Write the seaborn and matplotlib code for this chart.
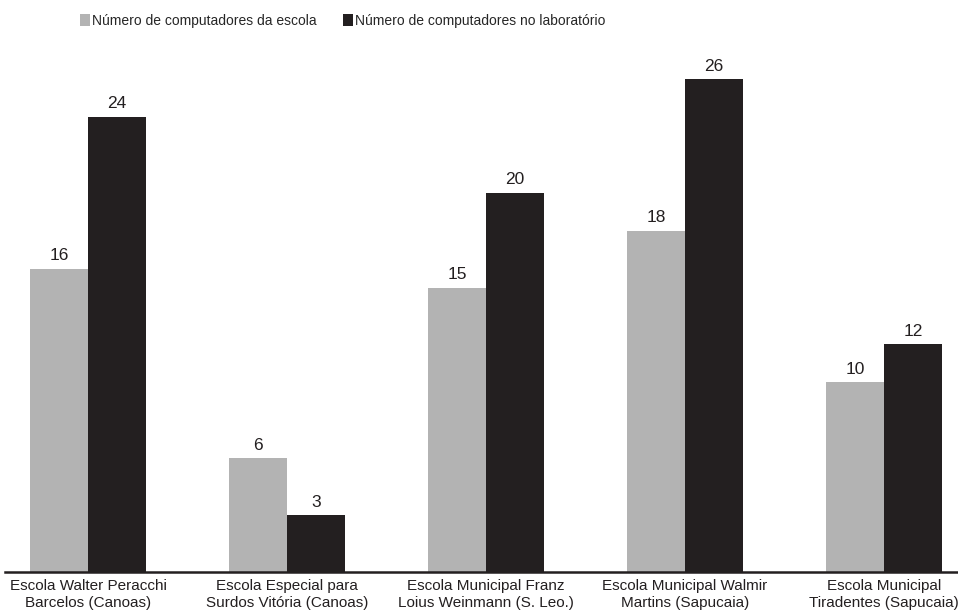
import matplotlib
matplotlib.use("Agg")
import matplotlib.pyplot as plt
import seaborn as sns
import pandas as pd

categories = [
    "Escola Walter Peracchi\nBarcelos (Canoas)",
    "Escola Especial para\nSurdos Vitória (Canoas)",
    "Escola Municipal Franz\nLoius Weinmann (S. Leo.)",
    "Escola Municipal Walmir\nMartins (Sapucaia)",
    "Escola Municipal\nTiradentes (Sapucaia)",
]
series_names = ["Número de computadores da escola", "Número de computadores no laboratório"]
escola = [16, 6, 15, 18, 10]
laboratorio = [24, 3, 20, 26, 12]
colors = ["#b3b3b3", "#231f20"]

df = pd.DataFrame({
    "categoria": categories * 2,
    "serie": [series_names[0]] * len(categories) + [series_names[1]] * len(categories),
    "valor": escola + laboratorio,
})

sns.set_theme(style="white")
plt.rcParams["font.family"] = ["Liberation Sans Narrow", "Liberation Sans", "DejaVu Sans"]

fig = plt.figure(figsize=(9.58, 6.15), dpi=100)
ax = fig.add_axes([5 / 958, 43 / 615, 953 / 958, 572 / 615])

sns.barplot(data=df, x="categoria", y="valor", hue="serie", palette=colors,
            width=0.58, gap=0, saturation=1, linewidth=0, edgecolor="none",
            ax=ax, legend=True)

for cont in ax.containers:
    ax.bar_label(cont, padding=4, fontsize=12.5, color="#231f20",
                 fontfamily=["Liberation Sans", "DejaVu Sans"])

ax.set_xlim(-0.417, 4.372)
ax.set_ylim(0, 30.17)
ax.set_xlabel("")
ax.set_ylabel("")
ax.set_yticks([])
ax.tick_params(axis="x", length=0, pad=5, labelsize=11, colors="#231f20")
for lbl in ax.get_xticklabels():
    lbl.set_linespacing(1.25)
for s in ["left", "right", "top"]:
    ax.spines[s].set_visible(False)
ax.spines["bottom"].set_color("#231f20")
ax.spines["bottom"].set_linewidth(1.8)

handles, labels = ax.get_legend_handles_labels()
ax.legend(handles, labels, loc="upper left", bbox_to_anchor=(80 / 958, 1 - 14 / 615),
          bbox_transform=fig.transFigure, ncol=2, frameon=False, fontsize=10,
          handlelength=0.75, handleheight=1.0, handletextpad=0.15, columnspacing=1.85,
          borderaxespad=0, borderpad=0)

fig.savefig("out.png", dpi=100)
